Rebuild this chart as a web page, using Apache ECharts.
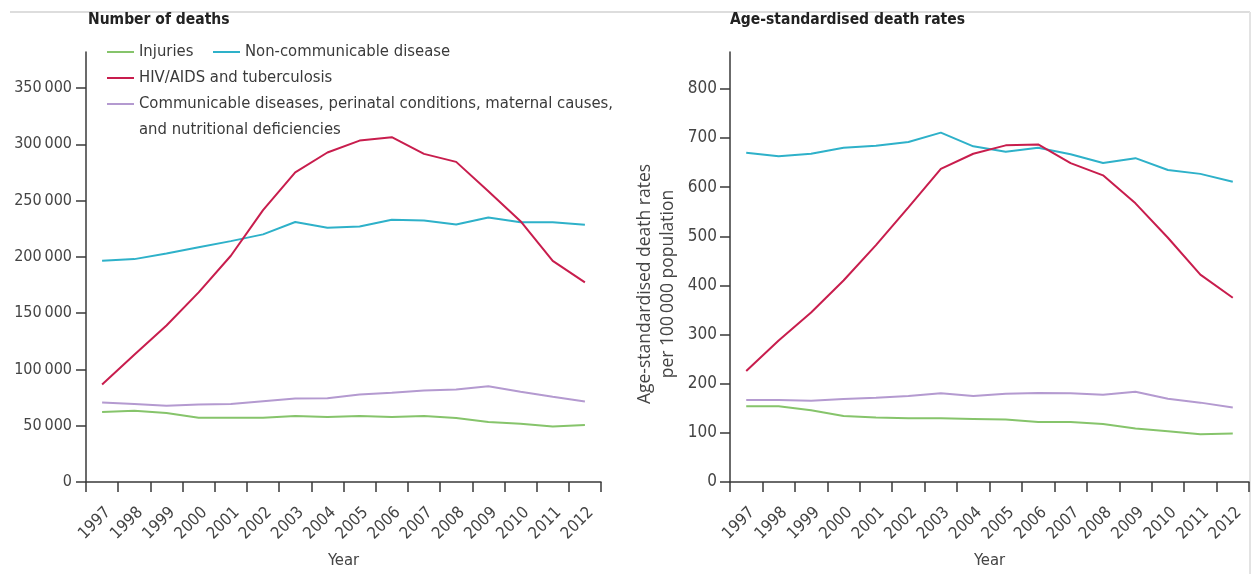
<!DOCTYPE html>
<html>
<head>
<meta charset="utf-8">
<script src="https://cdn.jsdelivr.net/npm/echarts@6/dist/echarts.min.js"></script>
<style>
html,body{margin:0;padding:0;background:#fff;}
#chart{width:1253px;height:574px;}
</style>
</head>
<body>
<div id="chart"></div>
<script>
var years = ['1997','1998','1999','2000','2001','2002','2003','2004','2005','2006','2007','2008','2009','2010','2011','2012'];

var seriesNames = [
  'Injuries',
  'Non-communicable disease',
  'HIV/AIDS and tuberculosis',
  'Communicable diseases, perinatal conditions, maternal causes, and nutritional deficiencies'
];

var deathsInjuries = [62100, 63300, 61200, 57100, 57100, 57100, 58600, 57700, 58600, 57700, 58600, 56800, 53300, 51800, 49200, 50600];
var deathsNCD = [196500, 198000, 203000, 208500, 214000, 220000, 231000, 225800, 227000, 233000, 232300, 228700, 235000, 230800, 230800, 228600];
var deathsHIV = [86600, 113000, 139000, 168500, 201000, 241500, 275000, 292700, 303300, 306300, 291500, 284400, 258200, 231700, 196400, 177300];
var deathsComm = [70700, 69200, 67700, 68900, 69200, 71800, 74200, 74500, 77700, 79200, 81300, 82200, 85100, 80100, 75700, 71600];

var rateInjuries = [154, 154, 146, 134.5, 131, 129.7, 129.7, 128.4, 127, 122.3, 122.3, 118.2, 108.8, 103.4, 97.3, 98.6];
var rateNCD = [670, 663, 668, 680, 684, 692, 711, 683, 672, 680, 667, 649, 659, 635, 627, 611];
var rateHIV = [226, 288, 345, 410, 482, 559, 637, 668, 685, 687, 649, 624, 567, 497, 422, 375];
var rateComm = [167, 167, 165.5, 169, 171.6, 175, 180.4, 175, 179.7, 181, 180.4, 177.7, 183.8, 169.6, 161.5, 151.4];

var deathTicks = [0, 50000, 100000, 150000, 200000, 250000, 300000, 350000];
var rateTicks = [0, 100, 200, 300, 400, 500, 600, 700, 800];

var colors = ['#86c46b', '#2eb1c9', '#c81d4d', '#b49ad0'];

var COND = "'DejaVu Sans Condensed', 'DejaVu Sans', sans-serif";
var LINE_ICON = 'path://M0,0L27,0L27,2L0,2Z';

function fmtThousands(v) {
  return String(v).replace(/\B(?=(\d{3})+(?!\d))/g, '\u2009');
}

var axisLineStyle = { color: '#3a3a3a', width: 1.5 };

function xAxisFor(gridIndex) {
  return {
    type: 'category',
    gridIndex: gridIndex,
    data: years,
    boundaryGap: true,
    axisLine: { show: true, lineStyle: axisLineStyle },
    axisTick: { show: true, inside: false, length: 10, lineStyle: axisLineStyle, interval: 0 },
    axisLabel: {
      interval: 0, rotate: 45, margin: 22, verticalAlign: 'top',
      fontFamily: COND, fontSize: 16.5, color: '#444'
    },
    splitLine: { show: false },
    name: 'Year',
    nameLocation: 'middle',
    nameGap: 70,
    nameTextStyle: { fontFamily: COND, fontSize: 16.5, color: '#444' }
  };
}

function lineSeries(name, data, idx, axisIdx) {
  return {
    type: 'line',
    name: name,
    data: data,
    xAxisIndex: axisIdx,
    yAxisIndex: axisIdx,
    symbol: 'none',
    smooth: false,
    color: colors[idx],
    lineStyle: { width: 2, color: colors[idx] },
    z: idx === 2 ? 4 : 3
  };
}

var legendText = { fontFamily: COND, fontSize: 16.5, color: '#3a3a3a', lineHeight: 20 };

function legendFor(name, left, top, extra) {
  var l = {
    data: [name], left: left, top: top, padding: 0,
    icon: LINE_ICON, itemWidth: 27, itemHeight: 2,
    textStyle: legendText, selectedMode: false
  };
  if (extra) { for (var k in extra) { l[k] = extra[k]; } }
  return l;
}

var option = {
  animation: false,
  backgroundColor: '#ffffff',
  title: [
    { text: 'Number of deaths', left: 88, top: 12, padding: 0,
      textStyle: { fontFamily: COND, fontWeight: 'bold', fontSize: 15.5, color: '#222' } },
    { text: 'Age-standardised death rates', left: 730, top: 12, padding: 0,
      textStyle: { fontFamily: COND, fontWeight: 'bold', fontSize: 15.5, color: '#222' } }
  ],
  legend: [
    legendFor(seriesNames[0], 107, 42),
    legendFor(seriesNames[1], 213, 42),
    legendFor(seriesNames[2], 107, 68),
    legendFor(seriesNames[3], 107, 65, {
      formatter: function (n) { return '\n' + n.replace('causes, ', 'causes,\n'); },
      textStyle: { fontFamily: COND, fontSize: 16.5, color: '#3a3a3a', lineHeight: 26 }
    })
  ],
  grid: [
    { left: 86, top: 52, width: 515, height: 432, containLabel: false },
    { left: 730, top: 52, width: 519, height: 432, containLabel: false }
  ],
  xAxis: [xAxisFor(0), xAxisFor(1)],
  yAxis: [
    {
      type: 'value', gridIndex: 0, min: 0, max: 382000, interval: 50000,
      axisLine: { show: true, lineStyle: axisLineStyle },
      axisTick: { show: true, length: 10, lineStyle: axisLineStyle, customValues: deathTicks },
      axisLabel: { margin: 14, fontFamily: COND, fontSize: 16, color: '#444',
        customValues: deathTicks, formatter: function (v) { return fmtThousands(v); } },
      splitLine: { show: false }
    },
    {
      type: 'value', gridIndex: 1, min: 0, max: 875, interval: 100,
      axisLine: { show: true, lineStyle: axisLineStyle },
      axisTick: { show: true, length: 10, lineStyle: axisLineStyle, customValues: rateTicks },
      axisLabel: { margin: 13, fontFamily: COND, fontSize: 17, color: '#444', customValues: rateTicks },
      splitLine: { show: false },
      name: 'Age-standardised death rates\nper 100\u2009000 population',
      nameLocation: 'middle',
      nameGap: 50,
      nameTextStyle: { fontFamily: "'Open Sans', sans-serif", fontSize: 17.5, lineHeight: 23, color: '#444', padding: [0, 34, 0, 0] }
    }
  ],
  graphic: [
    { type: 'line', shape: { x1: 10, y1: 12, x2: 1250, y2: 12 }, style: { stroke: '#dddddd', lineWidth: 2 }, silent: true },
    { type: 'line', shape: { x1: 1250, y1: 12, x2: 1250, y2: 574 }, style: { stroke: '#e3e3e3', lineWidth: 2 }, silent: true }
  ],
  series: [
    lineSeries(seriesNames[0], deathsInjuries, 0, 0),
    lineSeries(seriesNames[1], deathsNCD, 1, 0),
    lineSeries(seriesNames[2], deathsHIV, 2, 0),
    lineSeries(seriesNames[3], deathsComm, 3, 0),
    lineSeries(seriesNames[0], rateInjuries, 0, 1),
    lineSeries(seriesNames[1], rateNCD, 1, 1),
    lineSeries(seriesNames[2], rateHIV, 2, 1),
    lineSeries(seriesNames[3], rateComm, 3, 1)
  ]
};

var chart = echarts.init(document.getElementById('chart'), null, { renderer: 'canvas' });
chart.setOption(option);
</script>
</body>
</html>
